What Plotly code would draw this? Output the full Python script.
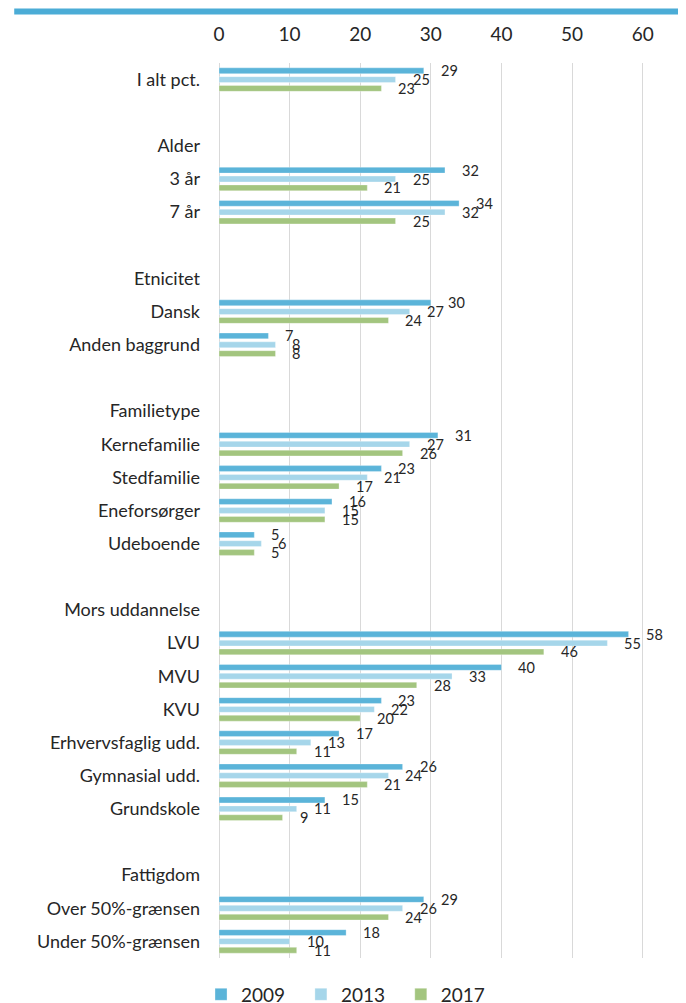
import plotly.graph_objects as go

# ---- data ----
row_labels = ["I alt pct.", "", "Alder", "3 år", "7 år", "", "Etnicitet", "Dansk",
              "Anden baggrund", "", "Familietype", "Kernefamilie", "Stedfamilie",
              "Eneforsørger", "Udeboende", "", "Mors uddannelse", "LVU", "MVU", "KVU",
              "Erhvervsfaglig udd.", "Gymnasial udd.", "Grundskole", "", "Fattigdom",
              "Over 50%-grænsen", "Under 50%-grænsen"]

categories = ["I alt pct.", "3 år", "7 år", "Dansk", "Anden baggrund", "Kernefamilie",
              "Stedfamilie", "Eneforsørger", "Udeboende", "LVU", "MVU", "KVU",
              "Erhvervsfaglig udd.", "Gymnasial udd.", "Grundskole",
              "Over 50%-grænsen", "Under 50%-grænsen"]
v2009 = [29, 32, 34, 30, 7, 31, 23, 16, 5, 58, 40, 23, 17, 26, 15, 29, 18]
v2013 = [25, 25, 32, 27, 8, 27, 21, 15, 6, 55, 33, 22, 13, 24, 11, 26, 10]
v2017 = [23, 21, 25, 24, 8, 26, 17, 15, 5, 46, 28, 20, 11, 21, 9, 24, 11]
series_names = ["2009", "2013", "2017"]
x_ticks = [0, 10, 20, 30, 40, 50, 60]

# ---- style ----
colors = ["#5BB4D9", "#A6D6EA", "#A3C57F"]
FONT = "Lato"
TXT = "#262626"
OFF = 8                      # page body margin
W, H = 686 - OFF, 1003 - OFF
ML = 219 - OFF
MT = 62.5 - OFF
MB = H - (958.5 - OFF)
MR = 7.5
BARGAP, GROUPGAP = 0.2, 0.34
legend_px = [201 - OFF, 301 - OFF, 401 - OFF]

plot_w = W - ML - MR
plot_h = H - MT - MB

ypos = [row_labels.index(c) for c in categories]

fig = go.Figure()
annotations = []
slot = (1 - BARGAP) / len(series_names)
legend_ids = ["legend", "legend2", "legend3"]
for i, (name, vals, col) in enumerate(zip(series_names, [v2009, v2013, v2017], colors)):
    fig.add_trace(go.Bar(
        x=vals, y=ypos, orientation="h", name=name,
        marker=dict(color=col, line=dict(color="rgba(255,255,255,0.6)", width=0.5)),
        hoverinfo="x+name", legend=legend_ids[i],
    ))
    for v, p in zip(vals, ypos):
        annotations.append(dict(
            x=v, y=p + (i - 1) * slot, xref="x", yref="y", text=str(v),
            showarrow=False, xanchor="left", yanchor="middle", xshift=15,
            font=dict(family=FONT, size=14.5, color=TXT),
        ))

legend_y = -(995 - 958.5) / plot_h
legends = {}
for lid, px in zip(legend_ids, legend_px):
    legends[lid] = dict(
        orientation="h", x=(px - ML) / plot_w, xanchor="left",
        y=legend_y, yanchor="middle",
        font=dict(family=FONT, size=19, color=TXT),
        bgcolor="rgba(0,0,0,0)",
    )

fig.update_layout(
    width=W, height=H,
    margin=dict(l=ML, r=MR, t=MT, b=MB, pad=0, autoexpand=False),
    paper_bgcolor="white", plot_bgcolor="white",
    barmode="group", bargap=BARGAP, bargroupgap=GROUPGAP,
    font=dict(family=FONT, color=TXT),
    annotations=annotations,
    xaxis=dict(
        side="top", range=[0, 65], tickvals=x_ticks, ticktext=[str(t) for t in x_ticks],
        showgrid=True, gridcolor="#D9D9D9", gridwidth=1,
        zeroline=True, zerolinecolor="#D9D9D9", zerolinewidth=1,
        showline=False, ticks="", tickfont=dict(family=FONT, size=19, color=TXT),
        ticklabelstandoff=17, fixedrange=True, automargin=False,
    ),
    yaxis=dict(
        tickmode="array", tickvals=list(range(len(row_labels))), ticktext=row_labels,
        range=[len(row_labels) - 0.5, -0.5], showgrid=False, zeroline=False,
        showline=False, ticks="", tickfont=dict(family=FONT, size=18, color=TXT),
        ticklabelstandoff=18, fixedrange=True, automargin=False,
    ),
    shapes=[dict(
        type="line", xref="paper", yref="paper",
        x0=(14 - OFF - ML) / plot_w, x1=(W + 10 - ML) / plot_w,
        y0=1 + (MT - (11 - OFF)) / plot_h, y1=1 + (MT - (11 - OFF)) / plot_h,
        line=dict(color="#4BACD6", width=6),
    )],
    showlegend=True,
    **legends,
)

fig.write_html("out.html")
